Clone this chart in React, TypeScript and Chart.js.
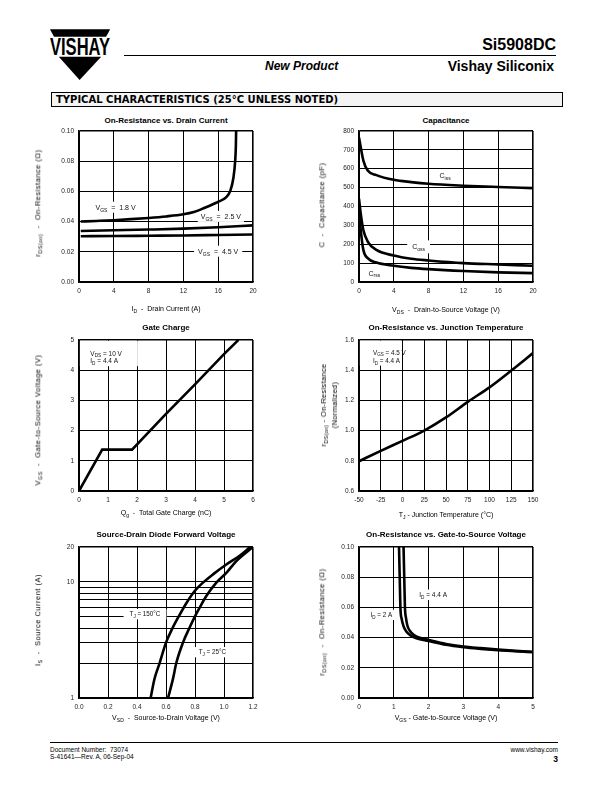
import React, { useEffect, useRef } from 'react';
import { Chart, registerables } from 'chart.js';

Chart.register(...registerables);

const FONT = '"Liberation Sans", Arial, Helvetica, sans-serif';

// ---------- 1. On-Resistance vs. Drain Current ----------
const idTicks = [0, 4, 8, 12, 16, 20];
const rdsTicks = [0, 0.02, 0.04, 0.06, 0.08, 0.1];
const id18 = [0.2, 2, 4, 6, 8, 10, 12, 13.2, 14.4, 15.9, 16.9, 17.4, 17.75, 17.95, 18.03, 18.06];
const rds18 = [0.04, 0.0404, 0.0409, 0.0416, 0.0424, 0.0434, 0.0448, 0.0463, 0.049, 0.0528, 0.056, 0.0605, 0.069, 0.08, 0.09, 0.1];
const id25 = [0.2, 4, 8, 12, 16, 20];
const rds25 = [0.0338, 0.0342, 0.0347, 0.0353, 0.0362, 0.0375];
const id45 = [0.2, 4, 8, 12, 16, 20];
const rds45 = [0.0303, 0.0304, 0.0306, 0.0308, 0.0311, 0.0314];

// ---------- 2. Capacitance ----------
const vdsTicks = [0, 4, 8, 12, 16, 20];
const capTicks = [0, 100, 200, 300, 400, 500, 600, 700, 800];
const vdsCap = [0, 0.2, 0.5, 1, 2, 4, 6, 8, 12, 16, 20];
const ciss = [765, 713, 643, 590, 566, 541, 529, 520, 510, 503, 497];
const coss = [441, 362, 275, 214, 170, 140, 123, 114, 100, 93, 86];
const crss = [380, 275, 170, 126, 103, 86, 75, 68, 58, 51, 47];

// ---------- 3. Gate Charge ----------
const qgTicks = [0, 1, 2, 3, 4, 5, 6];
const vgsTicks = [0, 1, 2, 3, 4, 5];
const qg = [0, 0.8, 1.83, 3, 4, 5, 5.5];
const vgsQ = [0, 1.37, 1.37, 2.55, 3.53, 4.53, 5.0];

// ---------- 4. On-Resistance vs. Junction Temperature ----------
const tjTicks = [-50, -25, 0, 25, 50, 75, 100, 125, 150];
const normTicks = [0.6, 0.8, 1.0, 1.2, 1.4, 1.6];
const tj = [-50, -25, 0, 25, 50, 75, 100, 125, 150];
const rdsNorm = [0.797, 0.866, 0.932, 1.0, 1.087, 1.19, 1.286, 1.397, 1.513];

// ---------- 5. Source-Drain Diode Forward Voltage ----------
const vsdTicks = [0, 0.2, 0.4, 0.6, 0.8, 1.0, 1.2];
const isTicks = [1, 2, 3, 4, 5, 6, 7, 8, 9, 10, 20];
const isLabels = [1, 10, 20];
const vsd150 = [0.494, 0.52, 0.556, 0.6, 0.645, 0.69, 0.74, 0.798, 0.855, 0.924, 1.016, 1.108, 1.182];
const is150 = [1.0, 1.45, 2.0, 3.0, 4.0, 5.1, 6.55, 8.35, 9.85, 11.6, 14.1, 16.8, 20];
const vsd25 = [0.614, 0.648, 0.671, 0.717, 0.763, 0.798, 0.832, 0.878, 0.947, 1.016, 1.085, 1.2];
const is25 = [1.0, 1.46, 2.0, 3.0, 4.05, 5.0, 6.0, 7.55, 9.85, 11.95, 15.1, 20];

// ---------- 6. On-Resistance vs. Gate-to-Source Voltage ----------
const vgsTicks6 = [0, 1, 2, 3, 4, 5];
const vgs2A = [1.15, 1.17, 1.19, 1.23, 1.28, 1.36, 1.47, 1.65, 2, 2.5, 3, 3.5, 4, 4.5, 5];
const rds2A = [0.1, 0.08, 0.06, 0.052, 0.0475, 0.044, 0.0415, 0.0395, 0.0377, 0.0352, 0.0336, 0.0325, 0.0316, 0.0309, 0.0303];
const vgs44A = [1.28, 1.3, 1.32, 1.35, 1.39, 1.46, 1.56, 1.72, 2, 2.5, 3, 3.5, 4, 4.5, 5];
const rds44A = [0.1, 0.08, 0.06, 0.053, 0.048, 0.0445, 0.042, 0.04, 0.0384, 0.0358, 0.0341, 0.033, 0.032, 0.0312, 0.0306];

// ---------- helpers ----------
type Part = { t: string; sub?: boolean };
const N = (t: string): Part => ({ t });
const S = (t: string): Part => ({ t, sub: true });

type Note = {
  x: number;
  y: number;
  lines: Part[][];
  align?: 'left' | 'center';
  pad?: [number, number];
  box?: [number, number, number, number];
  gap?: number;
  size?: number;
};

const PAD_L = 44, PAD_R = 14, PAD_T = 8, PAD_B = 24;

const pts = (xs: number[], ys: number[]) => xs.map((x, i) => ({ x, y: ys[i] }));

function notesPlugin(notes: Note[]) {
  return {
    id: 'notes',
    beforeDatasetsDraw(chart: any) {
      const { ctx } = chart;
      const xs = chart.scales.x, ys = chart.scales.y;
      ctx.save();
      ctx.textAlign = 'left';
      ctx.textBaseline = 'alphabetic';
      for (const n of notes) {
        const size = n.size ?? 6.5;
        const sub = size * 0.72;
        const fontOf = (p: Part) => `${p.sub ? sub : size}px ${FONT}`;
        const widthOf = (line: Part[]) =>
          line.reduce((w, p) => { ctx.font = fontOf(p); return w + ctx.measureText(p.t).width; }, 0);
        const px = xs.getPixelForValue(n.x), py = ys.getPixelForValue(n.y);
        const gap = n.gap ?? 8;
        const widths = n.lines.map(widthOf);
        ctx.fillStyle = '#fff';
        if (n.box) {
          const l = xs.getPixelForValue(n.box[0]), r = xs.getPixelForValue(n.box[2]);
          const b = ys.getPixelForValue(n.box[1]), t = ys.getPixelForValue(n.box[3]);
          ctx.fillRect(l, t, r - l, b - t);
        } else {
          const w = Math.max(...widths);
          const [padX, padY] = n.pad ?? [3, 2];
          const x0 = (n.align === 'left' ? px : px - w / 2) - padX;
          const y0 = py - size * 0.5 - padY;
          ctx.fillRect(x0, y0, w + 2 * padX, (n.lines.length - 1) * gap + size + 2 * padY);
        }
        ctx.fillStyle = '#111';
        n.lines.forEach((line, i) => {
          let cx = n.align === 'left' ? px : px - widths[i] / 2;
          const base = py + i * gap + size * 0.36;
          for (const p of line) {
            ctx.font = fontOf(p);
            ctx.fillText(p.t, cx, base + (p.sub ? size * 0.26 : 0));
            cx += ctx.measureText(p.t).width;
          }
        });
      }
      ctx.restore();
    },
  };
}

type AxisSpec = {
  type?: 'linear' | 'logarithmic';
  min: number;
  max: number;
  ticks: number[];
  fmt: (v: number) => string;
};

function axis(a: AxisSpec, isX: boolean) {
  return {
    type: a.type || 'linear',
    min: a.min,
    max: a.max,
    afterBuildTicks: (s: any) => { s.ticks = a.ticks.map((v) => ({ value: v })); },
    afterFit: (s: any) => { if (isX) s.height = PAD_B; else s.width = PAD_L; },
    ticks: {
      autoSkip: false,
      maxRotation: 0,
      minRotation: 0,
      padding: 5,
      color: '#222',
      font: { family: FONT, size: 6.5 },
      callback: (v: any) => a.fmt(Number(v)),
    },
    grid: {
      color: '#000',
      drawTicks: false,
      lineWidth: (c: any) => (c.tick && Math.abs(c.tick.value - a.max) < 1e-9 ? 1.6 : 1),
    },
    border: { display: true, color: '#000', width: 1.6 },
  };
}

function makeConfig(series: { x: number; y: number }[][], xa: AxisSpec, ya: AxisSpec, notes: Note[], smooth = true) {
  return {
    type: 'scatter',
    data: {
      datasets: series.map((d) => ({
        data: d,
        showLine: true,
        borderColor: '#000',
        borderWidth: 2.6,
        pointRadius: 0,
        fill: false,
        ...(smooth ? { cubicInterpolationMode: 'monotone' } : { tension: 0 }),
      })),
    },
    options: {
      animation: false,
      responsive: false,
      layout: { padding: { left: 0, right: PAD_R, top: PAD_T, bottom: 0 } },
      scales: { x: axis(xa, true), y: axis(ya, false) },
      plugins: { legend: { display: false }, tooltip: { enabled: false }, title: { display: false } },
    },
    plugins: [notesPlugin(notes)],
  } as any;
}

function Plot({ left, top, width, height, config }: any) {
  const ref = useRef<HTMLCanvasElement>(null);
  useEffect(() => {
    const chart = new Chart(ref.current as HTMLCanvasElement, config());
    return () => chart.destroy();
  }, []);
  const W = width + PAD_L + PAD_R, H = height + PAD_T + PAD_B;
  return (
    <canvas
      ref={ref}
      width={W}
      height={H}
      style={{ position: 'absolute', left: left - PAD_L, top: top - PAD_T, width: W, height: H }}
    />
  );
}

function Rich({ parts }: { parts: Part[] }) {
  return (
    <>
      {parts.map((p, i) =>
        p.sub ? (
          <span key={i} style={{ fontSize: '0.72em', position: 'relative', top: '0.3em' }}>{p.t}</span>
        ) : (
          <span key={i}>{p.t}</span>
        )
      )}
    </>
  );
}

function Label({ cx, cy, lines, size = 7, bold = false, rotate = false, lh = 1, ls = 0 }: any) {
  return (
    <div
      style={{
        position: 'absolute',
        left: cx,
        top: cy,
        transform: `translate(-50%, -50%)${rotate ? ' rotate(-90deg)' : ''}`,
        whiteSpace: 'pre',
        fontSize: size,
        fontWeight: bold ? 'bold' : 'normal',
        lineHeight: lh,
        letterSpacing: ls,
        fontFamily: FONT,
        color: '#000',
        textAlign: 'center',
      }}
    >
      {lines.map((ln: Part[], i: number) => (
        <div key={i}><Rich parts={ln} /></div>
      ))}
    </div>
  );
}

const fmt2 = (v: number) => v.toFixed(2);
const fmt1 = (v: number) => v.toFixed(1);
const fmt0 = (v: number) => String(Math.round(v));

const cfg1 = () =>
  makeConfig(
    [pts(id18, rds18), pts(id25, rds25), pts(id45, rds45)],
    { min: 0, max: 20, ticks: idTicks, fmt: fmt0 },
    { min: 0, max: 0.1, ticks: rdsTicks, fmt: fmt2 },
    [
      { x: 4.2, y: 0.0495, size: 7, lines: [[N('V'), S('GS'), N('  =  1.8 V')]] },
      { x: 16.3, y: 0.0434, size: 7, lines: [[N('V'), S('GS'), N('  =  2.5 V')]] },
      { x: 16.0, y: 0.0204, size: 7, lines: [[N('V'), S('GS'), N('  =  4.5 V')]], pad: [4, 2] },
    ]
  );

const cfg2 = () =>
  makeConfig(
    [pts(vdsCap, ciss), pts(vdsCap, coss), pts(vdsCap, crss)],
    { min: 0, max: 20, ticks: vdsTicks, fmt: fmt0 },
    { min: 0, max: 800, ticks: capTicks, fmt: fmt0 },
    [
      { x: 9.9, y: 564, size: 7, lines: [[N('C'), S('iss')]] },
      { x: 6.85, y: 186, size: 7, lines: [[N('C'), S('oss')]], pad: [5, 3] },
      { x: 1.77, y: 47, size: 7, lines: [[N('C'), S('rss')]] },
    ]
  );

const cfg3 = () =>
  makeConfig(
    [pts(qg, vgsQ)],
    { min: 0, max: 6, ticks: qgTicks, fmt: fmt0 },
    { min: 0, max: 5, ticks: vgsTicks, fmt: fmt0 },
    [
      {
        x: 0.39, y: 4.56, align: 'left', gap: 7.6, size: 6.5,
        lines: [[N('V'), S('DS'), N(' = 10 V')], [N('I'), S('D'), N(' = 4.4 A')]],
        box: [0.03, 4.13, 2.03, 4.97],
      },
    ],
    false
  );

const cfg4 = () =>
  makeConfig(
    [pts(tj, rdsNorm)],
    { min: -50, max: 150, ticks: tjTicks, fmt: fmt0 },
    { min: 0.6, max: 1.6, ticks: normTicks, fmt: fmt1 },
    [
      {
        x: -33.8, y: 1.517, align: 'left', gap: 8.3, size: 6.3,
        lines: [[N('V'), S('GS'), N(' = 4.5 V')], [N('I'), S('D'), N(' = 4.4 A')]],
        box: [-49, 1.43, -2, 1.595],
      },
    ]
  );

const cfg5 = () =>
  makeConfig(
    [pts(vsd150, is150), pts(vsd25, is25)],
    { min: 0, max: 1.2, ticks: vsdTicks, fmt: fmt1 },
    { type: 'logarithmic', min: 1, max: 20, ticks: isTicks, fmt: (v) => (isLabels.includes(v) ? String(v) : '') },
    [
      { x: 0.455, y: 5.27, size: 6.3, lines: [[N('T'), S('J'), N(' = 150°C')]], pad: [6, 2] },
      { x: 0.92, y: 2.48, size: 6.3, lines: [[N('T'), S('J'), N(' = 25°C')]], pad: [4, 2] },
    ]
  );

const cfg6 = () =>
  makeConfig(
    [pts(vgs2A, rds2A), pts(vgs44A, rds44A)],
    { min: 0, max: 5, ticks: vgsTicks6, fmt: fmt0 },
    { min: 0, max: 0.1, ticks: rdsTicks, fmt: fmt2 },
    [
      { x: 2.13, y: 0.0683, size: 6.5, lines: [[N('I'), S('D'), N(' = 4.4 A')]] },
      { x: 0.64, y: 0.055, size: 6.3, lines: [[N('I'), S('D'), N(' = 2 A')]] },
    ]
  );

const PW = 174, PH = 152;
const YT = { size: 7.5, ls: 0.5 };

export default function App() {
  return (
    <div style={{ position: 'absolute', left: 0, top: 0, width: 612, height: 792, background: '#fff', fontFamily: FONT, color: '#000' }}>
      {/* Header */}
      <svg width={612} height={100} style={{ position: 'absolute', left: 0, top: 0 }}>
        <polygon points="50,29.3 110.2,29.3 106,36.7 54,36.7" fill="#000" />
        <text x={50} y={55} fontFamily={FONT} fontWeight="bold" fontSize={23} textLength={60} lengthAdjust="spacingAndGlyphs" fill="#000">VISHAY</text>
        <polygon points="58.8,56.7 101.2,56.7 79.6,80" fill="#000" />
      </svg>
      <div style={{ position: 'absolute', left: 124, top: 54.5, width: 432, height: 1, background: '#000' }} />
      <div style={{ position: 'absolute', right: 56, top: 37, fontSize: 16, fontWeight: 'bold', lineHeight: 1, whiteSpace: 'nowrap' }}>Si5908DC</div>
      <div style={{ position: 'absolute', left: 265, top: 59.5, fontSize: 12, fontWeight: 'bold', fontStyle: 'italic', lineHeight: 1, whiteSpace: 'nowrap' }}>New Product</div>
      <div style={{ position: 'absolute', right: 58, top: 59, fontSize: 14, fontWeight: 'bold', lineHeight: 1, whiteSpace: 'nowrap' }}>Vishay Siliconix</div>

      <div style={{ position: 'absolute', left: 51, top: 92, width: 506, height: 13, border: '1px solid #000', background: '#f4f4f4', display: 'flex', alignItems: 'center', paddingLeft: 4, boxSizing: 'content-box' }}>
        <span style={{ fontFamily: '"DejaVu Sans", sans-serif', fontWeight: 'bold', fontSize: 10, lineHeight: 1, whiteSpace: 'nowrap' }}>TYPICAL CHARACTERISTICS (25°C UNLESS NOTED)</span>
      </div>

      {/* Chart 1 */}
      <Label cx={166} cy={121} size={8} bold lines={[[N('On-Resistance vs. Drain Current')]]} />
      <Plot left={79} top={130} width={PW} height={PH} config={cfg1} />
      <Label cx={166} cy={309} lines={[[N('I'), S('D'), N('  -  Drain Current (A)')]]} />
      <Label cx={38} cy={203} rotate {...YT} lines={[[N('r'), S('DS(on)'), N('  -  On-Resistance (Ω)')]]} />

      {/* Chart 2 */}
      <Label cx={446} cy={121} size={8} bold lines={[[N('Capacitance')]]} />
      <Plot left={359} top={130} width={PW} height={PH} config={cfg2} />
      <Label cx={446} cy={310} lines={[[N('V'), S('DS'), N('  -  Drain-to-Source Voltage (V)')]]} />
      <Label cx={322} cy={205} rotate {...YT} lines={[[N('C  -  Capacitance (pF)')]]} />

      {/* Chart 3 */}
      <Label cx={166} cy={328} size={8} bold lines={[[N('Gate Charge')]]} />
      <Plot left={79} top={339} width={PW} height={PH} config={cfg3} />
      <Label cx={166} cy={513} lines={[[N('Q'), S('g'), N('  -  Total Gate Charge (nC)')]]} />
      <Label cx={38} cy={420} rotate {...YT} lines={[[N('V'), S('GS'), N('  -  Gate-to-Source Voltage (V)')]]} />

      {/* Chart 4 */}
      <Label cx={446} cy={328} size={8} bold lines={[[N('On-Resistance vs. Junction Temperature')]]} />
      <Plot left={359} top={339} width={PW} height={PH} config={cfg4} />
      <Label cx={446} cy={515} lines={[[N('T'), S('J'), N(' - Junction Temperature (°C)')]]} />
      <Label cx={329} cy={405} rotate size={7.5} ls={0.3} lh="9.5px" lines={[[N('r'), S('DS(on)'), N(' - On-Resistance')], [N('(Normalized)')]]} />

      {/* Chart 5 */}
      <Label cx={166} cy={535} size={8} bold lines={[[N('Source-Drain Diode Forward Voltage')]]} />
      <Plot left={79} top={546} width={PW} height={PH} config={cfg5} />
      <Label cx={166} cy={718} lines={[[N('V'), S('SD'), N('  -  Source-to-Drain Voltage (V)')]]} />
      <Label cx={38} cy={620} rotate {...YT} lines={[[N('I'), S('S'), N('  -  Source Current (A)')]]} />

      {/* Chart 6 */}
      <Label cx={446} cy={535} size={8} bold lines={[[N('On-Resistance vs. Gate-to-Source Voltage')]]} />
      <Plot left={359} top={546} width={PW} height={PH} config={cfg6} />
      <Label cx={446} cy={718} lines={[[N('V'), S('GS'), N(' - Gate-to-Source Voltage (V)')]]} />
      <Label cx={322} cy={622} rotate {...YT} lines={[[N('r'), S('DS(on)'), N('  -  On-Resistance (Ω)')]]} />

      {/* Footer */}
      <div style={{ position: 'absolute', left: 50, top: 742, width: 508, height: 1, background: '#000' }} />
      <div style={{ position: 'absolute', left: 50, top: 747, fontSize: 6.5, lineHeight: 1, whiteSpace: 'pre' }}>Document Number:  73074</div>
      <div style={{ position: 'absolute', left: 50, top: 754, fontSize: 6.5, lineHeight: 1, whiteSpace: 'pre' }}>S-41641—Rev. A, 06-Sep-04</div>
      <div style={{ position: 'absolute', right: 54, top: 747, fontSize: 6.5, lineHeight: 1, whiteSpace: 'pre' }}>www.vishay.com</div>
      <div style={{ position: 'absolute', right: 54, top: 754.5, fontSize: 8.5, fontWeight: 'bold', lineHeight: 1 }}>3</div>
    </div>
  );
}
